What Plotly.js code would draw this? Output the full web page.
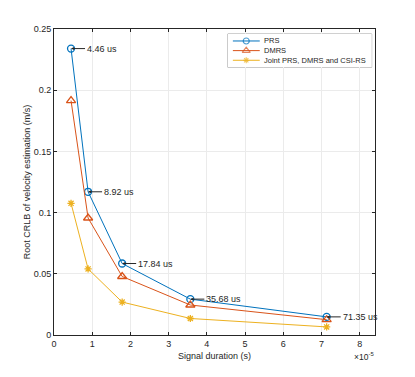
<!DOCTYPE html>
<html>
<head>
<meta charset="utf-8">
<script src="https://cdn.plot.ly/plotly-3.0.1.min.js"></script>
<style>
  html, body { margin: 0; padding: 0; background: #fff; }
  #plot { width: 415px; height: 377px; }
</style>
</head>
<body>
<div id="plot"></div>
<script>
// signal durations in microseconds, plotted on a x10^-5 s axis
var durationUs = [4.46, 8.92, 17.84, 35.68, 71.35];
var prs = [0.234, 0.117, 0.0584, 0.0293, 0.0148];
var dmrs = [0.1915, 0.0956, 0.0478, 0.0245, 0.0125];
var joint = [0.1076, 0.054, 0.0269, 0.0135, 0.0066];
var seriesNames = ["PRS", "DMRS", "Joint PRS, DMRS and CSI-RS"];

var xs = durationUs.map(d => d / 10);

var font = "Liberation Sans, Arial, sans-serif";
var ink = "#262626";

var styles = [
  {color: "#0072BD", symbol: "circle-open", size: 7},
  {color: "#D95319", symbol: "triangle-up-open", size: 8},
  {color: "#EDB120", symbol: "asterisk-open", size: 6}
];

var traces = [prs, dmrs, joint].map((ys, i) => ({
  x: xs, y: ys, name: seriesNames[i], mode: "lines+markers",
  line: {color: styles[i].color, width: 1},
  marker: {symbol: styles[i].symbol, size: styles[i].size, color: styles[i].color, line: {width: 1.3}},
  showlegend: false
}));

// hand-made MATLAB-style legend on a small extra axes
var rowY = [0.79, 0.5, 0.21];
seriesNames.forEach((n, i) => {
  traces.push({
    x: [0.035, 0.128, 0.222], y: [rowY[i], rowY[i], rowY[i]],
    xaxis: "x2", yaxis: "y2", mode: "lines+markers", hoverinfo: "skip",
    line: {color: styles[i].color, width: 1},
    marker: {symbol: styles[i].symbol, size: [0, styles[i].size - 1, 0], color: styles[i].color, line: {width: 1.2}},
    showlegend: false
  });
});

// data tips on the PRS curve
var notes = xs.map((x, i) => ({
  x: x, y: prs[i], xref: "x", yref: "y",
  text: durationUs[i].toFixed(2) + " us",
  showarrow: true, arrowhead: 2, arrowsize: 0.6, arrowwidth: 1, arrowcolor: ink,
  ax: 14, ay: 0, xanchor: "left",
  font: {family: font, size: 9, color: ink}
}));

seriesNames.forEach((n, i) => notes.push({
  xref: "x2", yref: "y2", x: 0.24, y: rowY[i], xanchor: "left", yanchor: "middle",
  text: n, showarrow: false, font: {family: font, size: 7.5, color: ink}
}));

notes.push({
  xref: "paper", yref: "paper", x: 1.002, y: -0.071, xanchor: "right", yanchor: "middle",
  text: "\u00d710<sup>-5</sup>", showarrow: false,
  font: {family: font, size: 8.5, color: ink}
});

var axisStyle = {
  showline: true, linecolor: ink, linewidth: 0.8, mirror: "ticks",
  ticks: "inside", ticklen: 3, tickcolor: ink,
  showgrid: true, gridcolor: "#ebebeb", zeroline: false,
  tickfont: {family: font, size: 9, color: ink}
};

var layout = {
  width: 415, height: 377,
  margin: {l: 54, r: 40, t: 29, b: 42},
  paper_bgcolor: "#fff", plot_bgcolor: "#fff",
  showlegend: false,
  xaxis: Object.assign({}, axisStyle, {
    range: [0, 8.4], dtick: 1,
    title: {text: "Signal duration (s)", font: {family: font, size: 9, color: ink}, standoff: 4}
  }),
  yaxis: Object.assign({}, axisStyle, {
    range: [0, 0.25], tickvals: [0, 0.05, 0.1, 0.15, 0.2, 0.25],
    ticktext: ["0", "0.05", "0.1", "0.15", "0.2", "0.25"],
    title: {text: "Root CRLB of velocity estimation (m/s)", font: {family: font, size: 9, color: ink}, standoff: 1}
  }),
  xaxis2: {domain: [0.5415, 0.9897], range: [0, 1], anchor: "y2", visible: false, fixedrange: true},
  yaxis2: {domain: [0.875, 0.9837], range: [0, 1], anchor: "x2", visible: false, fixedrange: true},
  shapes: [{
    type: "rect", xref: "x2 domain", yref: "y2 domain", x0: 0, x1: 1, y0: 0, y1: 1,
    layer: "below", fillcolor: "#fff", line: {color: "#8c8c8c", width: 0.8}
  }],
  annotations: notes
};

Plotly.newPlot("plot", traces, layout, {displayModeBar: false});
</script>
</body>
</html>
